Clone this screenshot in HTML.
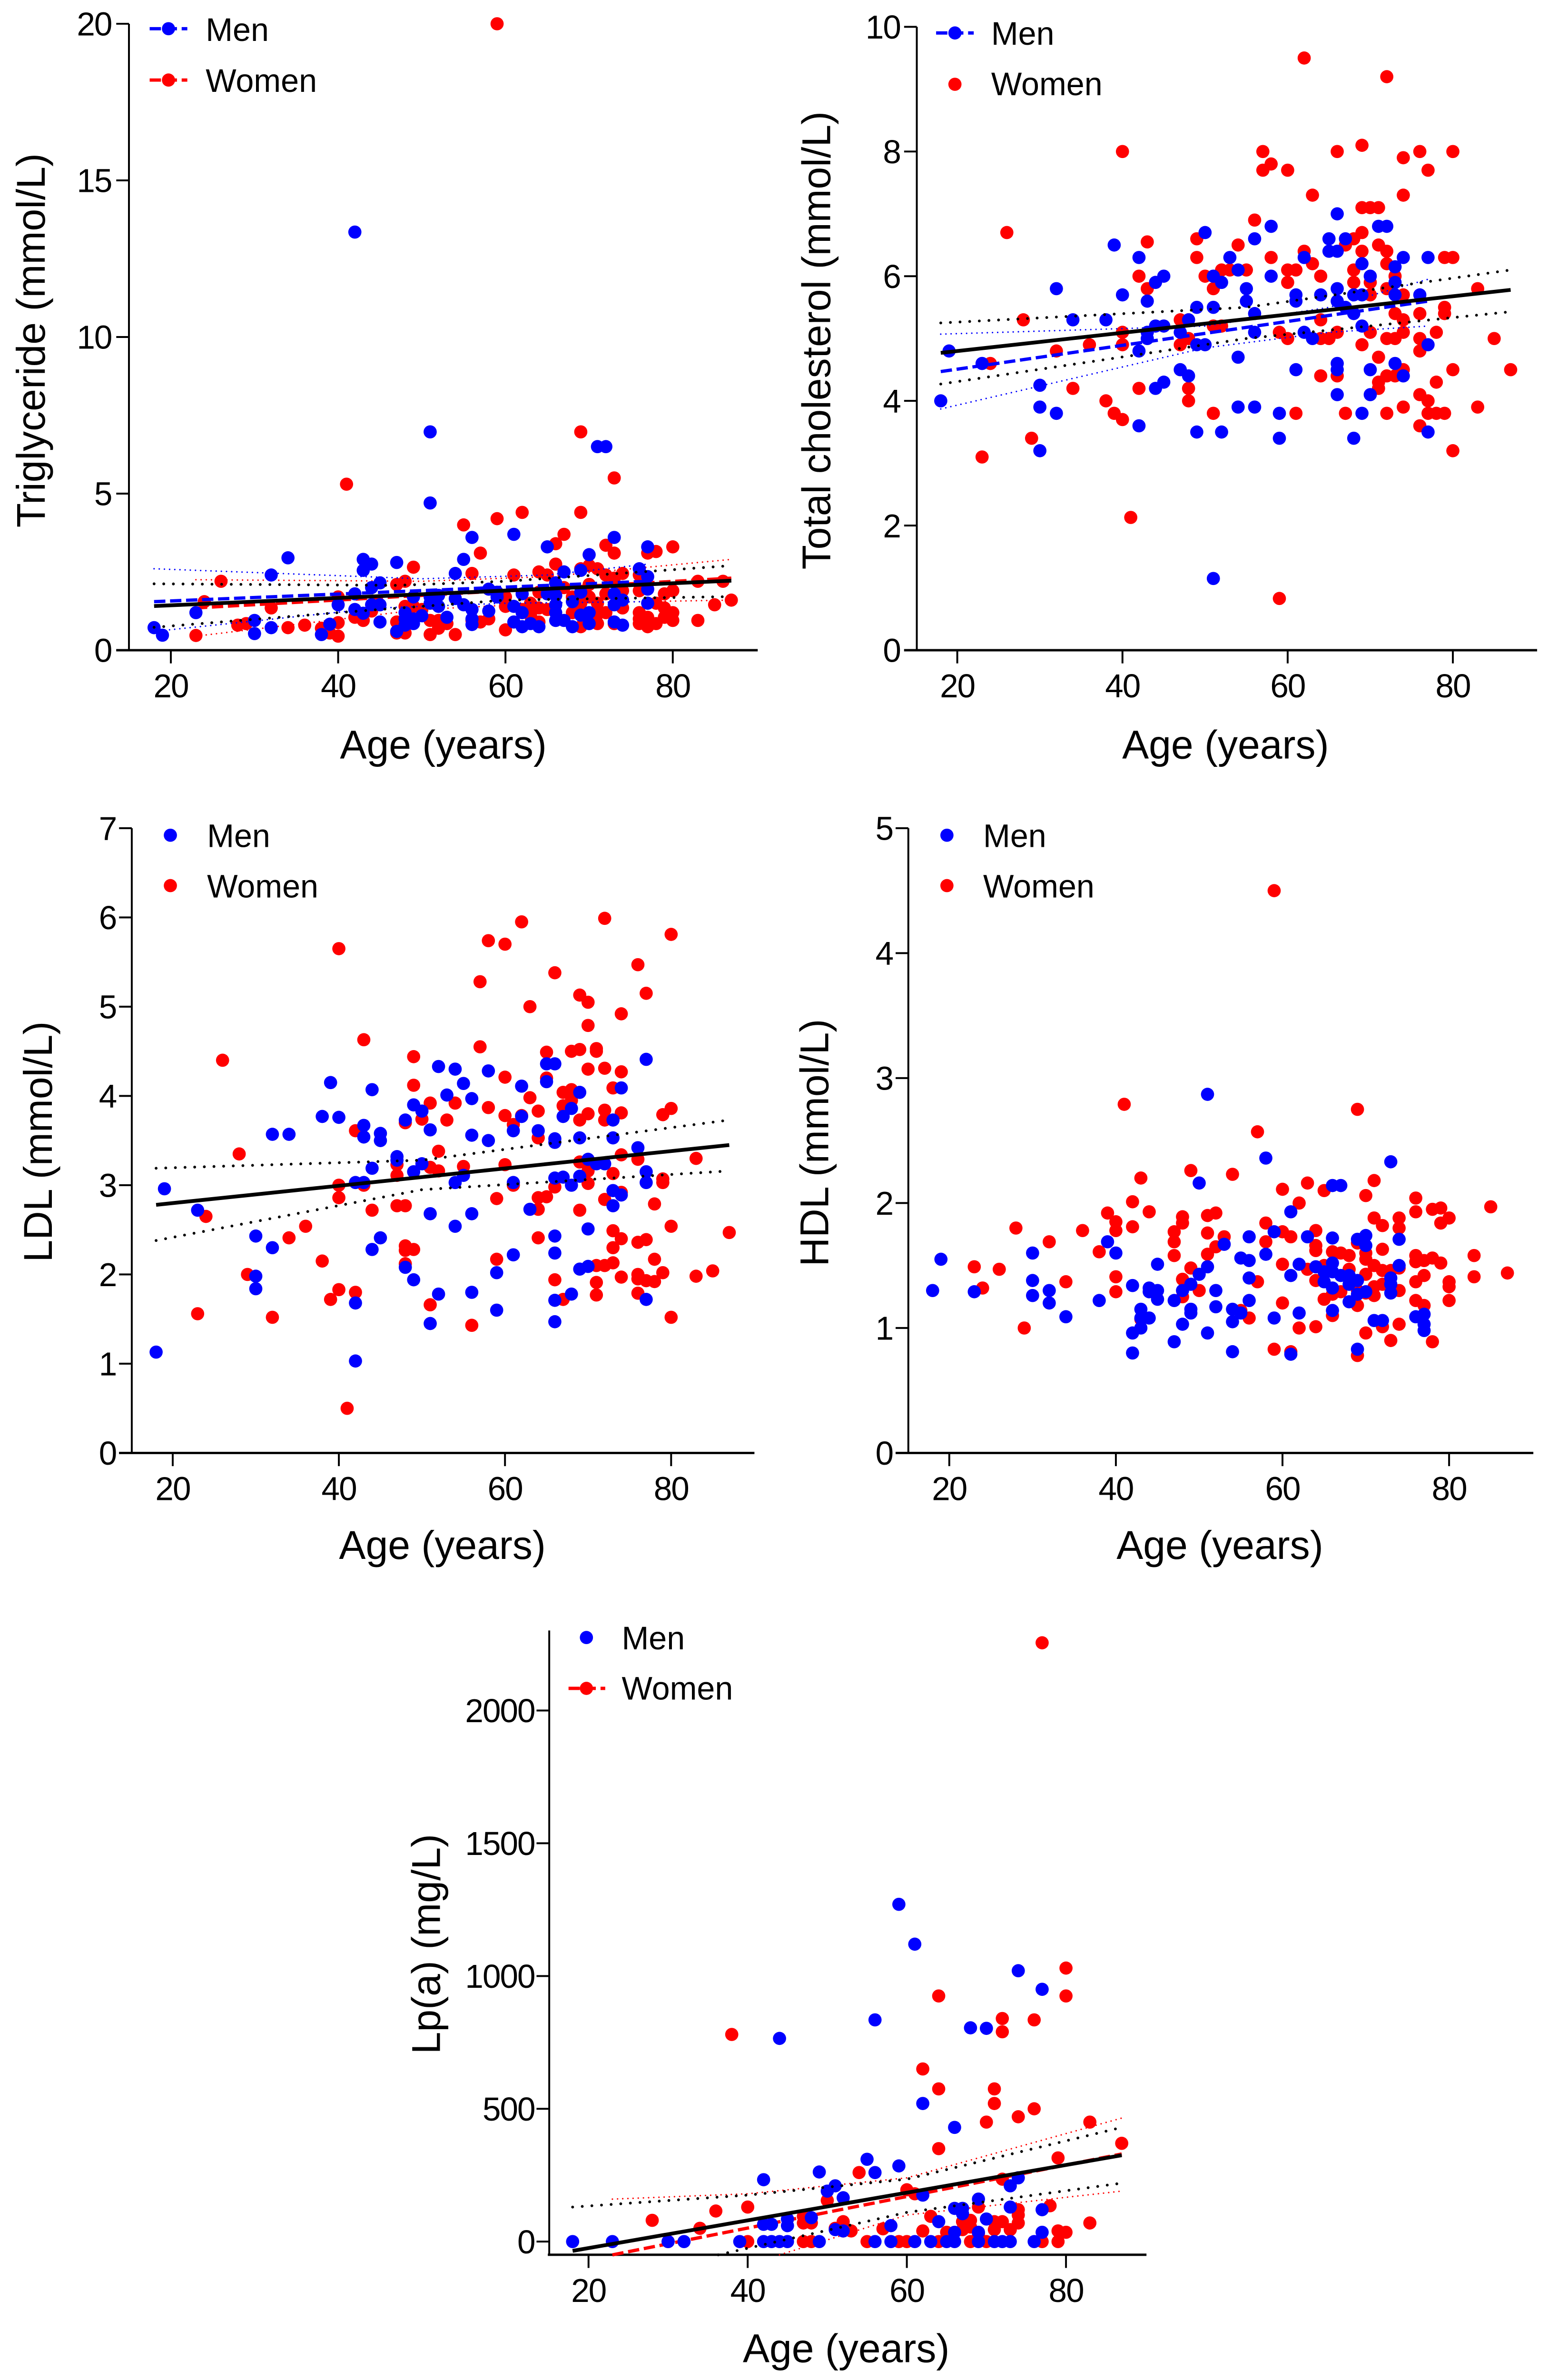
<!DOCTYPE html>
<html lang="en">
<head>
<meta charset="utf-8">
<title>Lipid levels by age</title>
<style>
html,body{margin:0;padding:0;background:#fff;overflow:hidden;width:100vw;height:100vh}
svg{display:block;position:absolute;left:0;top:0;width:98.9vw;height:100vh}
text{font-family:"Liberation Sans",Arial,sans-serif;fill:#000}
.tick{font-size:70px;letter-spacing:-2px}
.title{font-size:85px}
.leg{font-size:69px}
</style>
</head>
<body>
<svg id="figure" xmlns="http://www.w3.org/2000/svg" viewBox="0 0 3295 5055" preserveAspectRatio="none">
<rect width="3295" height="5055" fill="#fff"/>

<g id="tg">
<text class="title" x="942" y="1611" text-anchor="middle">Age (years)</text>
<text class="title" transform="translate(95 723) rotate(-90)" text-anchor="middle">Triglyceride (mmol/L)</text>
</g>
<g>
<line x1="318" y1="61" x2="398" y2="61" stroke="#00f" stroke-width="7" stroke-dasharray="24 10"/>
<circle cx="358" cy="61" r="14" fill="#00f"/>
<text class="leg" x="437" y="87">Men</text>
<line x1="318" y1="170" x2="398" y2="170" stroke="#f00" stroke-width="7" stroke-dasharray="24 10"/>
<circle cx="358" cy="170" r="14" fill="#f00"/>
<text class="leg" x="437" y="195">Women</text>
</g>

<g id="tc">
<text class="title" x="2604" y="1611" text-anchor="middle">Age (years)</text>
<text class="title" transform="translate(1764 723) rotate(-90)" text-anchor="middle">Total cholesterol (mmol/L)</text>
</g>
<g>
<line x1="1989" y1="70" x2="2069" y2="70" stroke="#00f" stroke-width="7" stroke-dasharray="24 10"/>
<circle cx="2029" cy="70" r="14" fill="#00f"/>
<text class="leg" x="2106" y="95">Men</text>
<circle cx="2029" cy="179" r="14" fill="#f00"/>
<text class="leg" x="2106" y="202">Women</text>
</g>

<g id="ldl">
<text class="title" x="940" y="3311" text-anchor="middle">Age (years)</text>
<text class="title" transform="translate(110 2425) rotate(-90)" text-anchor="middle">LDL (mmol/L)</text>
</g>
<g>
<circle cx="362" cy="1774" r="14" fill="#00f"/>
<text class="leg" x="440" y="1799">Men</text>
<circle cx="362" cy="1881" r="14" fill="#f00"/>
<text class="leg" x="440" y="1906">Women</text>
</g>

<g id="hdl">
<text class="title" x="2592" y="3311" text-anchor="middle">Age (years)</text>
<text class="title" transform="translate(1760 2427) rotate(-90)" text-anchor="middle">HDL (mmol/L)</text>
</g>
<g>
<circle cx="2012" cy="1774" r="14" fill="#00f"/>
<text class="leg" x="2089" y="1799">Men</text>
<circle cx="2012" cy="1881" r="14" fill="#f00"/>
<text class="leg" x="2089" y="1906">Women</text>
</g>

<g id="lpa">
<text class="title" x="1798" y="5017" text-anchor="middle">Age (years)</text>
<text class="title" transform="translate(935 4129) rotate(-90)" text-anchor="middle">Lp(a) (mg/L)</text>
</g>
<g>
<circle cx="1246" cy="3478" r="14" fill="#00f"/>
<text class="leg" x="1321" y="3503">Men</text>
<line x1="1208" y1="3586" x2="1286" y2="3586" stroke="#f00" stroke-width="7" stroke-dasharray="24 10"/>
<circle cx="1246" cy="3586" r="14" fill="#f00"/>
<text class="leg" x="1321" y="3610">Women</text>
</g>
</svg>

<script>
// Each data row: [age, value, value, ...]
const ageTicks = [20, 40, 60, 80];

// ---- Triglyceride ----
const tgTicks = [0, 5, 10, 15, 20];
const tgMen = [[18,.72],[19,.48],[23,1.2],[30,.95,.53],[32,2.4,.72],[34,2.95],[38,.5],[39,.83],[40,1.45],[42,13.35,1.8,1.3],[43,2.9,2.55,1.18],[44,2.75,2,1.45],[45,2.15,1.45,.9],[47,2.8,.6],[48,1.2,1,.8],[49,1.7,1,.85],[50,1.1],[51,6.97,4.7,1.7,1.5],[52,1.75,1.4],[53,1.05],[54,2.45,1.65],[55,2.9,1.45],[56,3.6,1.3,1,.82],[58,1.95,1.25],[59,1.85,1.7],[61,3.7,1.4,.9],[62,1.8,1.2,.75],[63,.85],[64,.75],[65,3.3,1.8],[66,2.15,1.75,1.45,1.2,.95],[67,2.5,.95],[68,1.55,.75],[69,2.55,1.85,1.12],[70,3.05,1.2,.85],[71,6.5],[72,6.5],[73,3.6,1.8,1.45,.9],[74,1.6,.8],[76,2.6],[77,3.3,2.35,1.95,1.5]];
const tgWomen = [[23,.47],[24,1.55],[26,2.2],[28,.8],[29,.85],[32,1.35],[34,.72],[36,.8],[38,.7],[39,.55],[40,1.7,.88,.45],[41,5.3],[42,1.05],[43,.95],[44,1.25],[47,2.1,.9,.55],[48,2.2,1.4,.55],[49,2.65,1.4],[50,1.3],[51,.95,.5],[52,.95,.7],[53,.85],[54,.5],[55,4],[56,2.45,.95],[57,3.1,.9],[58,1],[59,20,4.2],[60,1.7,1.4,.65],[61,2.4],[62,4.4,1.3],[63,1.5,1.1],[64,2.5,1.85,1.35,.9],[65,2.4,1.3],[66,3.4,2.75,1.75],[67,3.7,2],[68,1.7,1.2],[69,6.97,4.4,2.6,1.5,.75],[70,2.7,2.1,1.7],[71,2.6,1.5,1.15,.85],[72,3.35,2.4,1.8,1.2],[73,5.5,3.1,2.3,.85],[74,2.45,1.9,1.35],[76,2.4,1.9,1.2,1,.85],[77,3.1,1.05,.75],[78,3.15,1.5,.85],[79,1.8,1.35,1.05],[80,3.3,1.9,1.2,.95],[83,2.2,.95],[85,1.45],[86,2.2],[87,1.6]];
const tgAllFit = [[18,1.41],[87,2.22]];
const tgAllUpper = [[18,2.12],[47,2.07],[60,2.2],[87,2.7]];
const tgAllLower = [[18,.73],[40,1.2],[60,1.6],[87,1.71]];
const tgMenFit = [[18,1.55],[77,2.2]];
const tgMenUpper = [[18,2.6],[50,2.28],[65,2.4],[77,2.75]];
const tgMenLower = [[18,.6],[45,1.35],[60,1.5],[77,1.55]];
const tgWomenFit = [[23,1.35],[87,2.3]];
const tgWomenUpper = [[23,2.25],[50,2.2],[65,2.35],[87,2.9]];
const tgWomenLower = [[23,.45],[50,1.3],[65,1.5],[87,1.6]];

// ---- Total cholesterol ----
const tcTicks = [0, 2, 4, 6, 8, 10];
const tcMen = [[18,4],[19,4.8],[23,4.6],[30,4.25,3.9,3.2],[32,5.8,3.8],[34,5.3],[38,5.3],[39,6.5],[40,5.7],[42,6.3,4.8,3.6],[43,5.6,5.1,5],[44,5.9,5.2,4.2],[45,6,5.2,4.3],[47,5.1,4.5],[48,5.3,4.4],[49,5.5,4.9,3.5],[50,6.7,4.9],[51,6,5.5,1.15],[52,5.9,3.5],[53,6.3],[54,6.1,4.7,3.9],[55,5.8,5.6],[56,6.6,5.4,5.1,3.9],[58,6.8,6],[59,3.8,3.4],[61,5.7,5.6,4.5],[62,6.3,5.1],[63,5],[64,5.7],[65,6.6,6.4],[66,7,6.4,5.8,5.6,4.6,4.5,4.1],[67,6.6,5.5],[68,5.7,5.4,3.4],[69,6.2,5.7,5.2,3.8],[70,6,4.5,4.1],[71,6.8],[72,6.8],[73,6.15,5.9,5.7,4.6],[74,6.3,4.4],[76,5.7],[77,6.3,4.9,3.5]];
const tcWomen = [[23,3.1],[24,4.6],[26,6.7],[28,5.3],[29,3.4],[32,4.8],[34,4.2],[36,4.9],[38,4],[39,3.8],[40,8,5.1,4.9,3.7],[41,2.13],[42,6,4.2],[43,6.55,5.8],[47,5.3,4.9],[48,5.3,5,4.2,4],[49,6.6,6.3],[50,6],[51,5.8,5.2,3.8],[52,6.1,5.2],[53,6.1],[54,6.5],[55,6.1],[56,6.9],[57,8,7.7],[58,7.8,6.3],[59,5.1,.83],[60,7.7,6.1,5.9,5],[61,6.1,3.8],[62,9.5,6.4],[63,7.3,6.2],[64,6,5.3,5,4.4],[65,5],[66,8,5.1,4.4],[67,6.5,3.8],[68,6.6,6.1,5.9],[69,8.1,7.1,6.7,6.4,4.9],[70,7.1,5.9,5.7,5.1],[71,7.1,6.5,4.7,4.3,4.2],[72,9.2,6.4,6.2,5.8,5,4.4,3.8],[73,6,5.4,5,4.4],[74,7.9,7.3,5.7,5.3,5.1,4.5,3.9],[76,8,5.4,5,4.8,4.1,3.6],[77,7.7,4,3.8],[78,5.1,4.3,3.8],[79,6.3,5.5,5.4,3.8],[80,8,6.3,4.5,3.2],[83,5.8,3.9],[85,5],[87,4.5]];
const tcAllFit = [[18,4.77],[87,5.78]];
const tcAllUpper = [[18,5.25],[55,5.5],[87,6.1]];
const tcAllLower = [[18,4.27],[55,5.0],[87,5.43]];
const tcMenFit = [[18,4.47],[77,5.6]];
const tcMenUpper = [[18,5.07],[50,5.2],[65,5.5],[77,5.95]];
const tcMenLower = [[18,3.87],[50,4.85],[65,5.1],[77,5.2]];

// ---- LDL ----
const ldlTicks = [0, 1, 2, 3, 4, 5, 6, 7];
const ldlMen = [[18,1.13],[19,2.96],[23,2.72],[30,2.43,1.98,1.84],[32,3.57,2.3],[34,3.57],[38,3.77],[39,4.15],[40,3.76],[42,3.03,1.68,1.03],[43,3.67,3.54,3.03],[44,4.07,3.19,2.28],[45,3.58,3.5,2.41],[47,3.32,3.28],[48,3.73,2.08],[49,3.9,3.15,1.94],[50,3.83,3.24],[51,3.62,2.68,1.45],[52,4.33,1.78],[53,4.01],[54,4.3,3.03,2.54],[55,4.14,3.11],[56,3.97,3.56,2.68,1.8],[58,4.28,3.5],[59,2.02,1.6],[61,3.61,3.03,2.22],[62,4.11,3.77],[63,2.73],[64,3.61],[65,4.36,4.16],[66,4.36,3.52,3.48,3.08,2.43,2.24,1.71,1.47],[67,3.77,3.09],[68,3.86,3,1.78],[69,4.04,3.53,3.1,2.06],[70,3.29,2.51,2.09],[71,3.24],[72,3.24],[73,3.73,3.53,2.94,2.77],[74,4.09,2.89],[76,3.42],[77,4.41,3.15,3.03,1.72]];
const ldlWomen = [[23,1.56],[24,2.65],[26,4.4],[28,3.35],[29,2],[32,1.52],[34,2.41],[36,2.54],[38,2.15],[39,1.72],[40,5.65,3,2.86,1.83],[41,.5],[42,3.61,1.8],[43,4.63,3],[44,2.72],[47,3.23,3.11,2.77],[48,3.7,2.77,2.32,2.27,2.12],[49,4.44,4.12,2.28],[50,3.74],[51,3.92,3.2,1.66],[52,3.38,3.16],[53,3.73],[54,3.92],[55,3.21],[56,1.43],[57,5.28,4.55],[58,5.74,3.87],[59,2.85,2.17],[60,5.7,4.21,3.78,3.23],[61,3.68,3],[62,5.95,3.78],[63,5,3.98],[64,3.83,3.53,2.86,2.73,2.41],[65,4.49,4.2,2.87],[66,5.38,2.98,1.94],[67,4.04,3.89,1.72],[68,4.5,4.07,3.95],[69,5.13,4.52,3.73,3.26,2.72],[70,5.05,4.79,4.3,3.8,3.16,3.02],[71,4.53,4.5,2.1,1.91,1.77],[72,5.99,4.31,3.84,3.73,2.84,2.1],[73,4.09,3.13,2.49,2.3,2.13],[74,4.92,4.27,3.81,3.34,2.92,2.4,1.97],[76,5.47,3.29,2.36,2,1.95,1.79],[77,5.15,2.39,1.93],[78,2.79,2.17,1.92],[79,3.79,3.07,3.03,2.02],[80,5.81,3.86,2.54,1.52],[83,3.3,1.98],[85,2.04],[87,2.47]];
const ldlAllFit = [[18,2.78],[87,3.45]];
const ldlAllUpper = [[18,3.19],[50,3.28],[87,3.73]];
const ldlAllLower = [[18,2.38],[50,2.95],[87,3.16]];

// ---- HDL ----
const hdlTicks = [0, 1, 2, 3, 4, 5];
const hdlMen = [[18,1.3],[19,1.55],[23,1.29],[30,1.6,1.38,1.26],[32,1.3,1.2],[34,1.09],[38,1.22],[39,1.69],[40,1.6],[42,1.34,.96,.8],[43,1.15,1.08,1],[44,1.32,1.29,1.08],[45,1.51,1.3,1.23],[47,1.22,.89],[48,1.3,1.03],[49,1.35,1.15,1.12],[50,2.16,1.43],[51,2.87,1.49,.96],[52,1.3,1.17],[53,1.67],[54,1.15,1.05,.81],[55,1.56,1.12],[56,1.73,1.54,1.4,1.22],[58,2.36,1.59],[59,1.77,1.08],[61,1.93,1.42,.79],[62,1.51,1.12],[63,1.73],[64,1.49],[65,1.45,1.37],[66,2.14,1.72,1.52,1.45,1.32,1.14],[67,2.14,1.42],[68,1.42,1.35,1.21],[69,1.71,1.38,1.27,.83],[70,1.74,1.66,1.29],[71,1.06],[72,1.06],[73,2.33,1.4,1.35,1.28],[74,1.71,1.5],[76,1.09],[77,1.11,1.03,.98]];
const hdlWomen = [[23,1.49],[24,1.32],[26,1.47],[28,1.8],[29,1],[32,1.69],[34,1.37],[36,1.78],[38,1.61],[39,1.92],[40,1.85,1.78,1.41,1.29],[41,2.79],[42,2.01,1.81],[43,2.2,1.07],[44,1.93],[47,1.77,1.69,1.58],[48,1.89,1.84,1.39,1.25],[49,2.26,1.48],[50,1.3],[51,1.9,1.76,1.59],[52,1.92,1.65],[53,1.73],[54,2.23],[55,1.14],[56,1.08],[57,2.57,1.37],[58,1.84,1.69],[59,4.5,.83],[60,2.11,1.77,1.51,1.2],[61,1.73,.81],[62,2,1],[63,2.16,1.47],[64,1.78,1.66,1.62,1.38,1.01],[65,2.1,1.5,1.23],[66,1.61,1.27,1.1],[67,1.6,1.29],[68,1.58,1.47],[69,2.75,1.68,1.3,1.18,.78],[70,2.06,1.6,1.55,1.43,1.28,.96],[71,2.18,1.88,1.5,1.33,1.26],[72,1.82,1.63,1.46,1.35,1.01],[73,1.46,.9],[74,1.88,1.8,1.48,1.3,1.03],[76,2.04,1.93,1.58,1.53,1.37,1.22],[77,1.54,1.42,1.18],[78,1.95,1.56,.89],[79,1.96,1.84,1.52],[80,1.88,1.37,1.33,1.22],[83,1.58,1.41],[85,1.97],[87,1.44]];

// ---- Lp(a) ----
const lpaTicks = [0, 500, 1000, 1500, 2000];
const lpaMen = [[18,0],[23,0],[30,0],[32,0],[39,0],[42,233,65,0],[43,65,0],[44,765,0],[45,85,60,0],[48,90],[49,262,0],[50,190],[51,210,45],[52,165,40],[55,310],[56,835,260,0],[58,60,0],[59,1270,285],[61,1120,0],[62,520,175],[63,0],[64,75],[65,0],[66,430,125,35,0],[67,125,105],[68,805],[69,160,35,0],[70,803,85],[71,0],[72,0],[73,210,130,0],[74,1020,240],[76,0],[77,950,120,35]];
const lpaWomen = [[28,80],[30,0],[34,50],[36,115],[38,780],[40,130,0],[47,95,70,0],[48,70,0],[50,155],[51,50],[52,75,40],[53,40],[54,260],[55,0],[57,48],[59,0],[60,195,0],[61,180],[62,650,40],[63,95],[64,925,575,350,0],[65,35],[67,75,45],[68,80,55,0],[69,130,30],[70,450,0],[71,575,520,75,45],[72,840,790,235,75],[73,45],[74,470,120,100,70],[76,835,500],[77,2255,0],[78,135],[79,315,40,0],[80,1030,925,35],[83,450,70],[87,370]];
const lpaAllFit = [[18,-35],[87,325]];
const lpaAllUpper = [[18,130],[40,175],[60,235],[87,430]];
const lpaAllLower = [[36.3,-50],[60,110],[87,220]];
const lpaWomenFit = [[23,-50],[87,330]];
const lpaWomenUpper = [[23,160],[40,180],[60,240],[87,465]];
const lpaWomenLower = [[44,-50],[60,100],[87,190]];

const SVGNS = 'http://www.w3.org/2000/svg';
const BLUE = '#0000ff', RED = '#ff0000';

function make(tag, parent, attrs) {
  const el = document.createElementNS(SVGNS, tag);
  for (const k in attrs) el.setAttribute(k, attrs[k]);
  parent.appendChild(el);
  return el;
}

// Build linear axis function from two anchor pairs
function scale(d0, d1, p0, p1) {
  return function (v) { return p0 + (v - d0) * (p1 - p0) / (d1 - d0); };
}

function drawLine(parent, points, sx, sy, color, kind) {
  const pts = points.map(function (p) { return sx(p[0]).toFixed(1) + ',' + sy(p[1]).toFixed(1); }).join(' ');
  const styles = {
    solid: { w: 8, dash: null, cap: 'butt' },
    dash: { w: 7, dash: '24 10', cap: 'butt' },
    dot: { w: 6, dash: '0 20.5', cap: 'round' },
    thin: { w: 3.2, dash: '0 11', cap: 'round' }
  };
  const s = styles[kind];
  const line = make('polyline', parent, { points: pts, fill: 'none', stroke: color, 'stroke-width': s.w, 'stroke-linecap': s.cap });
  if (s.dash) line.setAttribute('stroke-dasharray', s.dash);
  
  
}

function drawDots(parent, rows, sx, sy, color, r) {
  rows.forEach(function (row) {
    for (let i = 1; i < row.length; i++) {
      const dot = make('circle', parent, { cx: sx(row[0]).toFixed(1), cy: sy(row[i]).toFixed(1), r: r, fill: color });
      
      
    }
  });
}

function drawAxes(parent, c, sx, sy, yTicks) {
  const tickLen = 27, tickW = 4;
  const xStart = c.xStart === undefined ? c.axisX - tickLen : c.xStart;
  const yAxis = make('line', parent, { x1: c.axisX, x2: c.axisX, y1: c.top, y2: c.bottom, stroke: '#000', 'stroke-width': 4 });
  
  
  const xAxis = make('line', parent, { x1: xStart, x2: c.right, y1: c.bottom, y2: c.bottom, stroke: '#000', 'stroke-width': 5 });
  
  
  ageTicks.forEach(function (t) {
    const tick = make('line', parent, { x1: sx(t), x2: sx(t), y1: c.bottom, y2: c.bottom + 28, stroke: '#000', 'stroke-width': tickW });
    
    
    const label = make('text', parent, { x: sx(t), y: c.bottom + 100, 'text-anchor': 'middle', 'class': 'tick' });
    label.textContent = t;
    
    
  });
  yTicks.forEach(function (t) {
    const tick = make('line', parent, { x1: c.axisX - tickLen, x2: c.axisX, y1: sy(t), y2: sy(t), stroke: '#000', 'stroke-width': tickW });
    
    
    const label = make('text', parent, { x: c.axisX - c.labelOff, y: sy(t) + 25, 'text-anchor': 'end', 'class': 'tick' });
    label.textContent = t;
    
    
  });
}

function panel(id, c, yTicks, series) {
  const g = document.getElementById(id);
  const sx = scale(c.x0, c.x1, c.px0, c.px1);
  const sy = scale(c.y0, c.y1, c.py0, c.py1);
  drawAxes(g, c, sx, sy, yTicks);
  (series.women || []).forEach(function (l) { drawLine(g, l[0], sx, sy, RED, l[1]); });
  drawDots(g, series.womenDots, sx, sy, RED, c.r);
  (series.men || []).forEach(function (l) { drawLine(g, l[0], sx, sy, BLUE, l[1]); });
  drawDots(g, series.menDots, sx, sy, BLUE, c.r);
  (series.all || []).forEach(function (l) { drawLine(g, l[0], sx, sy, '#000', l[1]); });
}

panel('tg', { x0: 20, x1: 80, px0: 363, px1: 1429.5, y0: 0, y1: 20, py0: 1381, py1: 50.5, axisX: 274, labelOff: 37, top: 50.5, bottom: 1381, right: 1610, r: 14 }, tgTicks, {
  womenDots: tgWomen, menDots: tgMen,
  women: [[tgWomenUpper, 'thin'], [tgWomenLower, 'thin'], [tgWomenFit, 'dash']],
  men: [[tgMenUpper, 'thin'], [tgMenLower, 'thin'], [tgMenFit, 'dash']],
  all: [[tgAllUpper, 'dot'], [tgAllLower, 'dot'], [tgAllFit, 'solid']]
});
panel('tc', { x0: 20, x1: 80, px0: 2034, px1: 3087, y0: 0, y1: 10, py0: 1381, py1: 57, axisX: 1948, labelOff: 35, top: 57, bottom: 1381, right: 3266, r: 14 }, tcTicks, {
  womenDots: tcWomen, menDots: tcMen,
  men: [[tcMenUpper, 'thin'], [tcMenLower, 'thin'], [tcMenFit, 'dash']],
  all: [[tcAllUpper, 'dot'], [tcAllLower, 'dot'], [tcAllFit, 'solid']]
});
panel('ldl', { x0: 20, x1: 80, px0: 367, px1: 1426, y0: 0, y1: 7, py0: 3086, py1: 1759, axisX: 280, labelOff: 33, top: 1759, bottom: 3086, right: 1603, r: 14 }, ldlTicks, {
  womenDots: ldlWomen, menDots: ldlMen,
  all: [[ldlAllUpper, 'dot'], [ldlAllLower, 'dot'], [ldlAllFit, 'solid']]
});
panel('hdl', { x0: 20, x1: 80, px0: 2017, px1: 3079, y0: 0, y1: 5, py0: 3086, py1: 1759, axisX: 1930, labelOff: 33, top: 1759, bottom: 3086, right: 3258, r: 14 }, hdlTicks, {
  womenDots: hdlWomen, menDots: hdlMen
});
panel('lpa', { x0: 20, x1: 80, px0: 1250.5, px1: 2265, y0: 0, y1: 2000, py0: 4761, py1: 3633, axisX: 1167, xStart: 1164, labelOff: 31, top: 3463, bottom: 4789, right: 2436, r: 14 }, lpaTicks, {
  womenDots: lpaWomen, menDots: lpaMen,
  women: [[lpaWomenUpper, 'thin'], [lpaWomenLower, 'thin'], [lpaWomenFit, 'dash']],
  all: [[lpaAllUpper, 'dot'], [lpaAllLower, 'dot'], [lpaAllFit, 'solid']]
});
</script>
</body>
</html>
